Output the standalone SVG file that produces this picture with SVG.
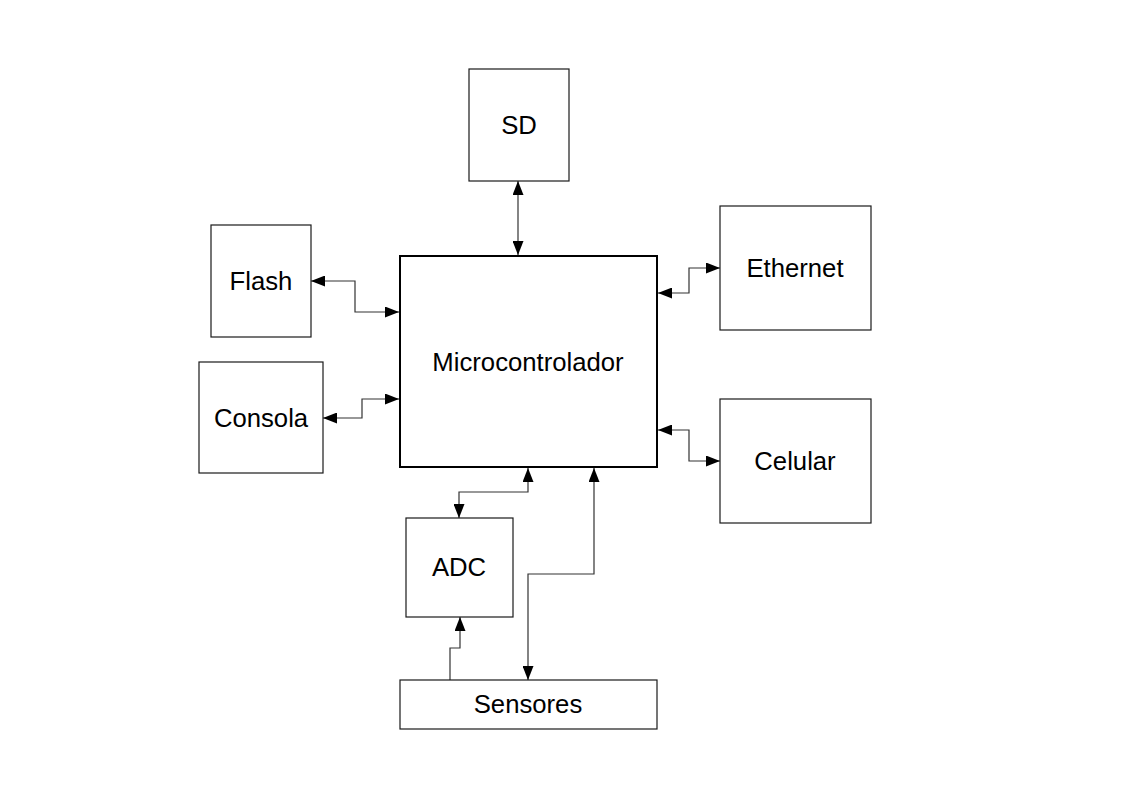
<svg xmlns="http://www.w3.org/2000/svg" width="1123" height="794" viewBox="0 0 1123 794">
<style>
.box{fill:#fff;stroke:#1a1a1a;stroke-width:1.2}
.main{fill:#fff;stroke:#000;stroke-width:2}
.lbl{font-family:"Liberation Sans",Arial,sans-serif;font-size:25.7px;fill:#000;text-anchor:middle}
.con{fill:none;stroke:#333;stroke-width:1.2;marker-end:url(#ah)}
.both{marker-start:url(#ah)}
</style>
<defs>
<marker id="ah" markerUnits="userSpaceOnUse" markerWidth="14" markerHeight="11" refX="14" refY="5.5" orient="auto-start-reverse">
<path d="M0,0 L14,5.5 L0,11 z" fill="#000"/>
</marker>
</defs>
<rect width="1123" height="794" fill="#fff"/>
<g id="connectors">
<path class="con both" d="M518,181 V255"/>
<path class="con both" d="M311,281 H355 V312 H399"/>
<path class="con both" d="M323,418 H362 V399 H399"/>
<path class="con both" d="M658,293 H689 V268 H720"/>
<path class="con both" d="M658,430 H689 V461 H720"/>
<path class="con both" d="M528,468 V492 H459 V518"/>
<path class="con" d="M450,680 V648 H460 V617"/>
<path class="con both" d="M594,468 V574 H528 V680"/>
</g>
<g id="micro"><rect class="main" x="400" y="256" width="257" height="211"/><text class="lbl" x="528" y="371">Microcontrolador</text></g>
<g id="sd"><rect class="box" x="469" y="69" width="100" height="112"/><text class="lbl" x="519" y="134">SD</text></g>
<g id="flash"><rect class="box" x="211" y="225" width="100" height="112"/><text class="lbl" x="261" y="290">Flash</text></g>
<g id="consola"><rect class="box" x="199" y="362" width="124" height="111"/><text class="lbl" x="261" y="427">Consola</text></g>
<g id="ethernet"><rect class="box" x="720" y="206" width="151" height="124"/><text class="lbl" x="795" y="277">Ethernet</text></g>
<g id="celular"><rect class="box" x="720" y="399" width="151" height="124"/><text class="lbl" x="795" y="470">Celular</text></g>
<g id="adc"><rect class="box" x="406" y="518" width="107" height="99"/><text class="lbl" x="459" y="576">ADC</text></g>
<g id="sensores"><rect class="box" x="400" y="680" width="257" height="49"/><text class="lbl" x="528" y="713">Sensores</text></g>
</svg>
